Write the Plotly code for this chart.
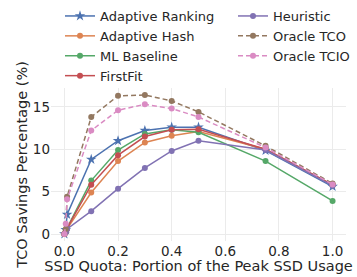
import plotly.graph_objects as go

quota = [0, 0.005, 0.01, 0.1, 0.2, 0.3, 0.4, 0.5, 0.75, 1.0]

adaptive_ranking = [0.0, 0.5, 2.3, 8.8, 11.0, 12.2, 12.6, 12.6, 9.85, 5.6]
adaptive_hash = [0.0, 0.3, 0.6, 4.9, 8.6, 10.8, 11.6, 12.1, 10.0, 5.8]
ml_baseline = [0.0, 0.3, 0.7, 6.3, 9.9, 11.8, 12.3, 12.0, 8.6, 3.9]
firstfit = [0.0, 0.3, 0.7, 5.8, 9.3, 11.5, 12.3, 12.35, 10.0, 5.8]
heuristic = [0.0, 0.2, 0.6, 2.7, 5.35, 7.8, 9.8, 11.0, 9.9, 5.7]
oracle_tco = [0.0, 0.6, 4.4, 13.8, 16.3, 16.4, 15.7, 14.4, 10.4, 5.95]
oracle_tcio = [0.0, 1.2, 4.1, 12.2, 14.6, 15.3, 14.8, 13.8, 10.2, 5.85]

x_ticks = [0.0, 0.2, 0.4, 0.6, 0.8, 1.0]
y_ticks = [0, 5, 10, 15]

FONT = "DejaVu Sans"
TXT = "#262626"

series = [
    ("Adaptive Ranking", adaptive_ranking, "#4C72B0", "star", "solid", 8, "legend"),
    ("Adaptive Hash", adaptive_hash, "#DD8452", "circle", "solid", 6, "legend"),
    ("ML Baseline", ml_baseline, "#55A868", "circle", "solid", 6, "legend"),
    ("FirstFit", firstfit, "#C44E52", "circle", "solid", 6, "legend"),
    ("Heuristic", heuristic, "#8172B3", "circle", "solid", 6, "legend2"),
    ("Oracle TCO", oracle_tco, "#937860", "circle", "5px,3px", 6, "legend2"),
    ("Oracle TCIO", oracle_tcio, "#DA8BC3", "circle", "5px,3px", 6, "legend2"),
]

fig = go.Figure()
for name, vals, color, sym, dash, msize, leg in series:
    fig.add_trace(go.Scatter(
        x=quota, y=vals, name=name, mode="lines+markers",
        line=dict(color=color, width=1.5, dash=dash),
        marker=dict(color=color, symbol=sym, size=msize),
        legend=leg,
    ))

axis_common = dict(
    showgrid=True, gridcolor="#ebebeb", gridwidth=1,
    zeroline=False, showline=False, ticks="", automargin=False,
    tickfont=dict(family=FONT, size=13.5, color=TXT),
)

# plot area in pixels: x 51..346, y 88..241
PW, PH = 295.0, 153.0
def px_x(p):
    return (p - 51) / PW
def px_y(p):
    return (241 - p) / PH

fig.update_layout(
    width=357, height=277,
    margin=dict(l=51, r=11, t=88, b=36, autoexpand=False),
    paper_bgcolor="white", plot_bgcolor="white",
    font=dict(family=FONT, size=14, color=TXT),
    xaxis=dict(range=[-0.05, 1.05], tickvals=x_ticks,
               ticktext=[f"{v:.1f}" for v in x_ticks],
               title=dict(text="SSD Quota: Portion of the Peak SSD Usage",
                          font=dict(family=FONT, size=14.5, color=TXT), standoff=1),
               **axis_common),
    yaxis=dict(range=[-0.82, 17.22], tickvals=y_ticks,
               ticktext=[str(v) for v in y_ticks],
               title=dict(text="TCO Savings Percentage (%)",
                          font=dict(family=FONT, size=14.5, color=TXT), standoff=1),
               **axis_common),
    legend=dict(x=px_x(60), y=px_y(1),
                xanchor="left", yanchor="top", bgcolor="rgba(0,0,0,0)",
                font=dict(family=FONT, size=13, color=TXT), itemwidth=30,
                tracegroupgap=0),
    legend2=dict(x=px_x(233), y=px_y(1),
                 xanchor="left", yanchor="top", bgcolor="rgba(0,0,0,0)",
                 font=dict(family=FONT, size=13, color=TXT), itemwidth=30,
                 tracegroupgap=0),
    showlegend=True,
)

fig.write_html("out.html", config={"displayModeBar": False},
               post_script="document.body.style.margin='0';")
